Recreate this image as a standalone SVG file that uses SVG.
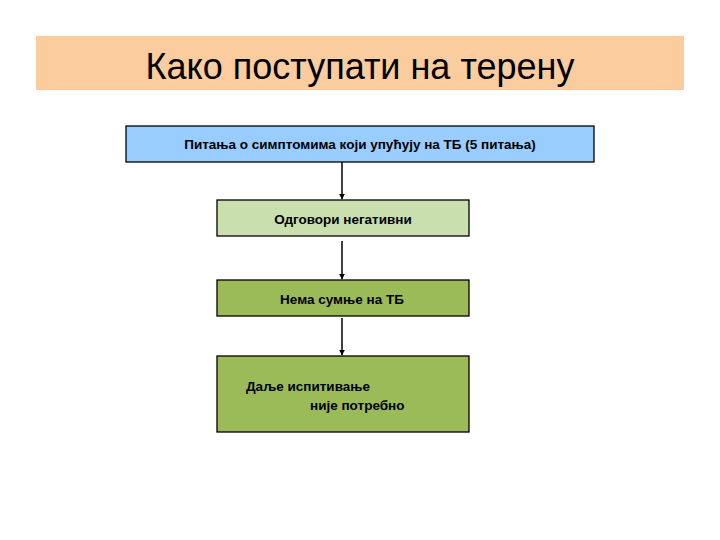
<svg xmlns="http://www.w3.org/2000/svg" width="720" height="540" viewBox="0 0 720 540">
<defs>
<style>
.b{stroke:#000;stroke-width:1.3}
.t{font-family:"Liberation Sans",Arial,sans-serif;font-size:13.5px;font-weight:bold;fill:#000}
.c{stroke:#000;stroke-width:1.5;fill:none}
</style>
<marker id="a" viewBox="0 0 10 10" refX="9" refY="5" markerWidth="4" markerHeight="4" orient="auto"><path d="M0,0L10,5L0,10z" fill="#000"/></marker>
</defs>
<rect width="720" height="540" fill="#fff"/>
<g id="title">
<rect x="36" y="36" width="648" height="54" fill="#FACC9E"/>
<text x="360" y="79" text-anchor="middle" font-family="Liberation Sans,Arial,sans-serif" font-size="36" fill="#000">Како поступати на терену</text>
</g>
<g id="n1"><rect class="b" x="126" y="126" width="468" height="36" fill="#99CCFF"/><text class="t" x="360" y="149" text-anchor="middle">Питања о симптомима који упућују на ТБ (5 питања)</text></g>
<g id="n2"><rect class="b" x="217" y="200" width="252" height="36" fill="#C9DFAE"/><text class="t" x="343" y="224" text-anchor="middle">Одговори негативни</text></g>
<g id="n3"><rect class="b" x="217" y="280" width="252" height="36" fill="#9BBB59"/><text class="t" x="342" y="304" text-anchor="middle">Нема сумње на ТБ</text></g>
<g id="n4"><rect class="b" x="217" y="356" width="252" height="76" fill="#9BBB59"/><text class="t" x="246" y="391">Даље испитивање</text><text class="t" x="310" y="410">није потребно</text></g>
<g id="connectors">
<line class="c" x1="342" y1="162" x2="342" y2="199" marker-end="url(#a)"/>
<line class="c" x1="342" y1="241" x2="342" y2="279" marker-end="url(#a)"/>
<line class="c" x1="342" y1="318" x2="342" y2="355" marker-end="url(#a)"/>
</g>
</svg>
